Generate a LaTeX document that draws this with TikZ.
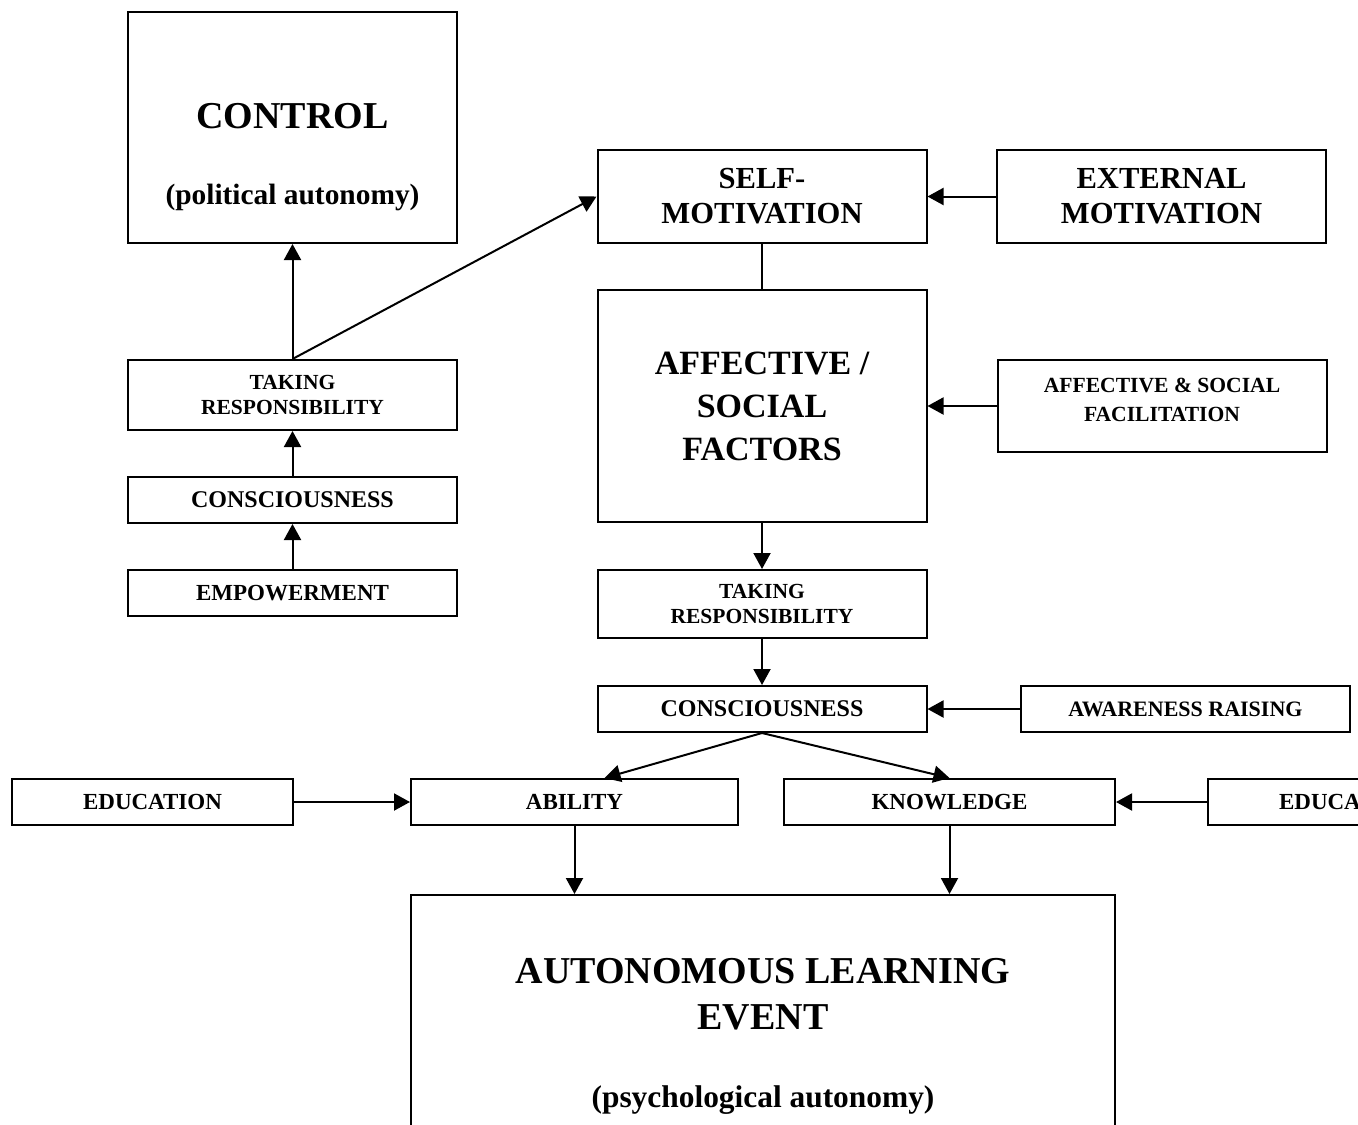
\documentclass[tikz,border=0pt]{standalone}
\usepackage{fontspec}
\setmainfont{Liberation Serif}
\usetikzlibrary{arrows.meta}

\begin{document}
\begin{tikzpicture}[x=0.5pt,y=-0.5pt,>={Triangle[length=8pt,width=8.5pt]},line width=1pt,
    box/.style={draw,line width=1pt,inner sep=0pt,align=center,font=\bfseries},
    wide box/.style={box,minimum width=164.5pt},
    small box/.style={wide box,minimum height=23pt,font=\bfseries\fontsize{11.5}{12.5}\selectfont},
    edu box/.style={box,minimum width=140.5pt,minimum height=23pt,font=\bfseries\fontsize{11.5}{12.5}\selectfont}]

    \useasboundingbox (0,0) rectangle (1358,1124);
    \clip (0,0) rectangle (1358,1124);

    % left column
    \node[wide box, minimum height=115.5pt] (control) at (292.5,127.5) {};
    \node[align=center, font=\bfseries\fontsize{19}{23}\selectfont] (controltxt) at (292.5,157)
        {CONTROL\\[15pt]{\fontsize{14.7}{17}\selectfont (political autonomy)}};
    \node[wide box, minimum height=35pt, font=\bfseries\fontsize{10.75}{12.5}\selectfont] (takeL) at (292.5,395) {TAKING\\RESPONSIBILITY};
    \node[small box, font=\bfseries\fontsize{12}{13}\selectfont] (consL) at (292.5,500) {CONSCIOUSNESS};
    \node[small box] (empow) at (292.5,593) {EMPOWERMENT};

    % middle column
    \node[wide box, minimum height=46.5pt, font=\bfseries\fontsize{15.3}{17.5}\selectfont] (selfmot) at (762,196.5) {SELF-\\MOTIVATION};
    \node[wide box, minimum height=116pt, font=\bfseries\fontsize{17}{21.5}\selectfont] (affect) at (762,406) {AFFECTIVE /\\SOCIAL\\FACTORS};
    \node[wide box, minimum height=34pt, font=\bfseries\fontsize{10.75}{12.5}\selectfont] (takeC) at (762,604) {TAKING\\RESPONSIBILITY};
    \node[small box, font=\bfseries\fontsize{12}{13}\selectfont] (consC) at (762,709) {CONSCIOUSNESS};

    % right column
    \node[wide box, minimum height=46.5pt, font=\bfseries\fontsize{15.3}{17.5}\selectfont] (extmot) at (1161.5,196.5) {EXTERNAL\\MOTIVATION};
    \node[wide box, minimum height=46pt, font=\bfseries\fontsize{10.8}{14.5}\selectfont] (facil) at (1162,406) {AFFECTIVE \& SOCIAL\\FACILITATION\\[-8.5pt]};
    \node[small box, font=\bfseries\fontsize{11}{12.5}\selectfont] (aware) at (1185.5,709) {AWARENESS RAISING};

    % bottom row
    \node[edu box] (eduL) at (152.5,802) {EDUCATION};
    \node[box, minimum width=163.5pt, minimum height=23pt, font=\bfseries\fontsize{11.5}{12.5}\selectfont] (ability) at (574.5,802) {ABILITY};
    \node[box, minimum width=165.5pt, minimum height=23pt, font=\bfseries\fontsize{11.5}{12.5}\selectfont] (knowl) at (949.5,802) {KNOWLEDGE};
    \node[edu box] (eduR) at (1348.5,802) {EDUCATION};
    \node[box, minimum width=352pt, minimum height=141pt, font=\bfseries\fontsize{19}{23}\selectfont] (auton) at (763,1036)
        {AUTONOMOUS LEARNING\\EVENT\\[16pt]{\fontsize{15.7}{18}\selectfont (psychological autonomy)}};

    % connectors
    \draw[->] (takeL.north) -- (control.south);
    \draw[->] (takeL.north) -- (selfmot.west);
    \draw[->] (consL.north) -- (takeL.south);
    \draw[->] (empow.north) -- (consL.south);
    \draw[->] (extmot.west) -- (selfmot.east);
    \draw[-] (selfmot.south) -- (affect.north);
    \draw[->] (facil.west) -- (affect.east);
    \draw[->] (affect.south) -- (takeC.north);
    \draw[->] (takeC.south) -- (consC.north);
    \draw[->] (aware.west) -- (consC.east);
    \draw[->] (consC.south) -- ([xshift=15pt]ability.north);
    \draw[->] (consC.south) -- (knowl.north);
    \draw[->] (eduL.east) -- (ability.west);
    \draw[->] (eduR.west) -- (knowl.east);
    \draw[->] (ability.south) -- (ability.south |- auton.north);
    \draw[->] (knowl.south) -- (knowl.south |- auton.north);
\end{tikzpicture}
\end{document}
